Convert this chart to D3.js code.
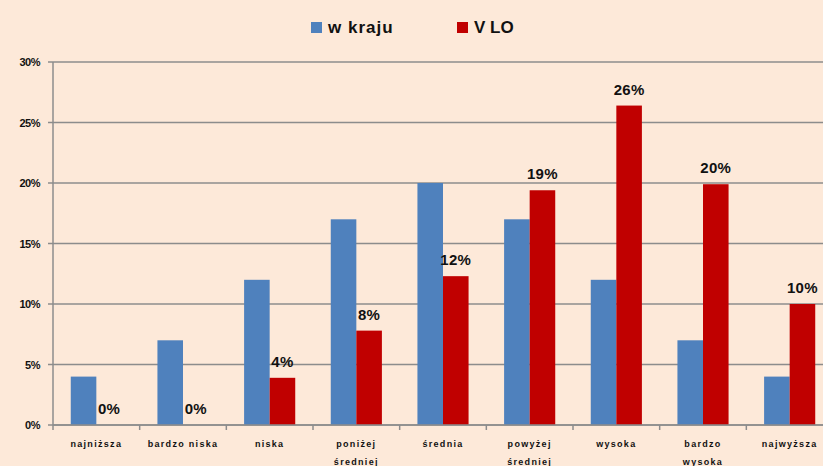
<!DOCTYPE html>
<html>
<head>
<meta charset="utf-8">
<script src="https://cdn.jsdelivr.net/npm/d3@7"></script>
<style>
  body { margin: 0; background: #fde9d9; overflow: hidden; }
  svg text { font-family: "Liberation Sans", Arial, sans-serif; fill: #111; }
</style>
</head>
<body>
<div id="chart"></div>
<script>
document.addEventListener("DOMContentLoaded", function () {
  // dane
  const categories = [["najniższa"], ["bardzo niska"], ["niska"], ["poniżej", "średniej"], ["średnia"],
                      ["powyżej", "średniej"], ["wysoka"], ["bardzo", "wysoka"], ["najwyższa"]];
  const seriesNames = ["w kraju", "V LO"];
  const kraj = [4, 7, 12, 17, 20, 17, 12, 7, 4];
  const vlo = [0, 0, 3.9, 7.8, 12.3, 19.4, 26.4, 19.9, 10];
  const yTicks = [0, 5, 10, 15, 20, 25, 30];

  const blue = "#4f81bd";
  const red = "#c00000";
  const gridColor = "#8c8c8c";

  const width = 823, height = 466;
  const left = 53, right = 833, top = 62, bottom = 425;

  const svg = d3.select("#chart")
                .append("svg")
                .attr("width", width)
                .attr("height", height);

  const idx = categories.map((d, i) => i);
  const x0 = d3.scaleBand().domain(idx).range([left, right]).padding(0);
  const gap = x0.bandwidth() * 0.205;
  const x1 = d3.scaleBand().domain([0, 1]).range([gap, x0.bandwidth() - gap]);
  const y = d3.scaleLinear().domain([0, 30]).range([bottom, top]);

  // siatka
  svg.append("g")
     .selectAll("line")
     .data(yTicks)
     .enter()
     .append("line")
     .attr("x1", left - 5)
     .attr("x2", right)
     .attr("y1", d => y(d))
     .attr("y2", d => y(d))
     .style("stroke", gridColor)
     .style("stroke-width", 1.5);

  // oś Y
  svg.append("line")
     .attr("x1", left).attr("x2", left)
     .attr("y1", top).attr("y2", bottom)
     .style("stroke", gridColor).style("stroke-width", 1.5);

  svg.append("g")
     .selectAll("text")
     .data(yTicks)
     .enter()
     .append("text")
     .attr("x", left - 13)
     .attr("y", d => y(d) + 4)
     .attr("text-anchor", "end")
     .style("font-size", "11px")
     .style("font-weight", "bold")
     .style("letter-spacing", "-0.5px")
     .text(d => d + "%");

  // słupki
  const groups = svg.append("g")
                    .selectAll("g")
                    .data(idx)
                    .enter()
                    .append("g")
                    .attr("transform", d => `translate(${x0(d)},0)`);

  groups.append("rect")
        .attr("x", x1(0))
        .attr("y", d => y(kraj[d]))
        .attr("width", x1.bandwidth())
        .attr("height", d => bottom - y(kraj[d]))
        .style("fill", blue);

  groups.append("rect")
        .attr("x", x1(1))
        .attr("y", d => y(vlo[d]))
        .attr("width", x1.bandwidth())
        .attr("height", d => bottom - y(vlo[d]))
        .style("fill", red);

  groups.append("text")
        .attr("x", x1(1) + x1.bandwidth() / 2)
        .attr("y", d => y(vlo[d]) - 11)
        .attr("text-anchor", "middle")
        .style("font-size", "15px")
        .style("font-weight", "bold")
        .style("letter-spacing", "0.3px")
        .text(d => Math.round(vlo[d]) + "%");

  // oś X
  svg.append("line")
     .attr("x1", left).attr("x2", right)
     .attr("y1", bottom).attr("y2", bottom)
     .style("stroke", gridColor).style("stroke-width", 1.5);

  svg.append("g")
     .selectAll("line")
     .data(idx.concat([categories.length]))
     .enter()
     .append("line")
     .attr("x1", d => left + d * x0.step())
     .attr("x2", d => left + d * x0.step())
     .attr("y1", bottom)
     .attr("y2", bottom + 5)
     .style("stroke", gridColor).style("stroke-width", 1.5);

  const labels = svg.append("g")
                    .selectAll("text")
                    .data(idx)
                    .enter()
                    .append("text")
                    .attr("text-anchor", "middle")
                    .style("font-size", "9px")
                    .style("font-weight", "bold")
                    .style("letter-spacing", "1.3px");

  labels.selectAll("tspan")
        .data(d => categories[d].map(t => ({ t: t, i: d })))
        .enter()
        .append("tspan")
        .attr("x", d => x0(d.i) + x0.bandwidth() / 2)
        .attr("y", (d, k) => 447 + k * 18)
        .text(d => d.t);

  // legenda
  const legend = [
    { name: seriesNames[0], color: blue, x: 311 },
    { name: seriesNames[1], color: red, x: 457 }
  ];
  const lg = svg.append("g")
                .selectAll("g")
                .data(legend)
                .enter()
                .append("g")
                .attr("transform", d => `translate(${d.x},22)`);
  lg.append("rect")
    .attr("width", 11).attr("height", 11)
    .style("fill", d => d.color);
  lg.append("text")
    .attr("x", 17).attr("y", 11)
    .style("font-size", "17px")
    .style("font-weight", "bold")
    .style("letter-spacing", d => d.name === "w kraju" ? "1px" : "0px")
    .text(d => d.name);
});
</script>
</body>
</html>
